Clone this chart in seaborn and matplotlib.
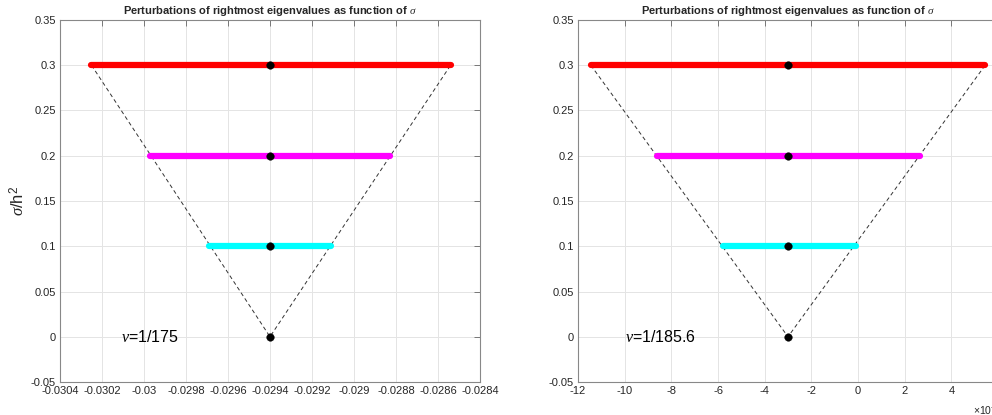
import numpy as np
import pandas as pd
import matplotlib
matplotlib.use("Agg")
import matplotlib.pyplot as plt
import seaborn as sns

# sigma/h^2 levels
sigma = [0.1, 0.2, 0.3]
band_colors = ["#00ffff", "#ff00ff", "#ff0000"]

# left panel, nu = 1/175
left_center = -0.0294
left_lo = [-0.02969, -0.02997, -0.03025]
left_hi = [-0.02911, -0.02883, -0.02854]

# right panel, nu = 1/185.6 (x in units of the cut-off exponent)
right_center = -3.0
right_lo = [-5.8, -8.6, -11.45]
right_hi = [-0.1, 2.65, 5.45]

left_xticks = [-0.0304, -0.0302, -0.03, -0.0298, -0.0296, -0.0294, -0.0292,
               -0.029, -0.0288, -0.0286, -0.0284]
right_xticks = [-12, -10, -8, -6, -4, -2, 0, 2, 4, 6]
yticks = [-0.05, 0, 0.05, 0.1, 0.15, 0.2, 0.25, 0.3, 0.35]
ytick_labels = ["-0.05", "0", "0.05", "0.1", "0.15", "0.2", "0.25", "0.3", "0.35"]

title = r"Perturbations of rightmost eigenvalues as function of $\sigma$"

sns.set_style("white")
plt.rcParams["font.family"] = ["Liberation Sans", "DejaVu Sans"]
plt.rcParams["mathtext.fontset"] = "custom"
plt.rcParams["mathtext.it"] = "Liberation Serif:italic"
plt.rcParams["mathtext.rm"] = "Liberation Sans"
plt.rcParams["axes.unicode_minus"] = False

fig = plt.figure(figsize=(9.92, 4.15), dpi=100)
ax1 = fig.add_axes([60 / 992, 33 / 415, 420 / 992, 362 / 415])
ax2 = fig.add_axes([578 / 992, 33 / 415, 420 / 992, 362 / 415])


def draw_panel(ax, center, lo, hi, xticks, nu_text, text_x):
    # dashed V from centre at sigma=0 to the widest band ends
    ax.plot([lo[-1], center, hi[-1]], [sigma[-1], 0, sigma[-1]],
            color="#333333", lw=0.7, ls=(0, (4, 3)), zorder=2)

    rows = []
    for s, a, b in zip(sigma, lo, hi):
        rows.append({"x": a, "sigma": s})
        rows.append({"x": b, "sigma": s})
    bands = pd.DataFrame(rows)
    sns.lineplot(data=bands, x="x", y="sigma", hue="sigma",
                 palette=dict(zip(sigma, band_colors)), lw=4.5,
                 solid_capstyle="round", legend=False, ax=ax, zorder=3)

    dots = pd.DataFrame({"x": [center] * 4, "sigma": [0] + sigma})
    sns.scatterplot(data=dots, x="x", y="sigma", color="black", s=30,
                    edgecolor="black", linewidth=0.3, ax=ax, zorder=4)

    ax.set_xlim(xticks[0], xticks[-1])
    ax.set_ylim(-0.05, 0.35)
    ax.set_xticks(xticks)
    ax.set_xticklabels([f"{t:g}" for t in xticks])
    ax.set_yticks(yticks)
    ax.set_yticklabels(ytick_labels)
    ax.grid(True, color="#e4e4e4", lw=0.7)
    ax.set_axisbelow(True)
    ax.tick_params(direction="in", length=4, width=0.7, color="#777777",
                   labelsize=8, labelcolor="#262626", top=True, right=True,
                   pad=3)
    for sp in ax.spines.values():
        sp.set_color("#888888")
        sp.set_linewidth(0.8)
    ax.set_xlabel("")
    ax.set_ylabel("")
    ax.set_title(title, fontsize=8, fontweight="bold", pad=4)
    ax.text(text_x, 0, nu_text, fontsize=11.5, va="center", ha="left",
            color="black")


draw_panel(ax1, left_center, left_lo, left_hi, left_xticks,
           r"$\nu$=1/175", -0.03011)
draw_panel(ax2, right_center, right_lo, right_hi, right_xticks,
           r"$\nu$=1/185.6", -10.0)

ax1.set_ylabel(r"$\sigma$/h$^2$", fontsize=12)
ax1.yaxis.set_label_coords(-0.078, 0.5)

ax2.text(0.94, -0.078, r"$\times$10$^{-5}$", transform=ax2.transAxes,
         fontsize=7.5, color="#262626", ha="left", va="center")

fig.savefig("out.png", dpi=100)
